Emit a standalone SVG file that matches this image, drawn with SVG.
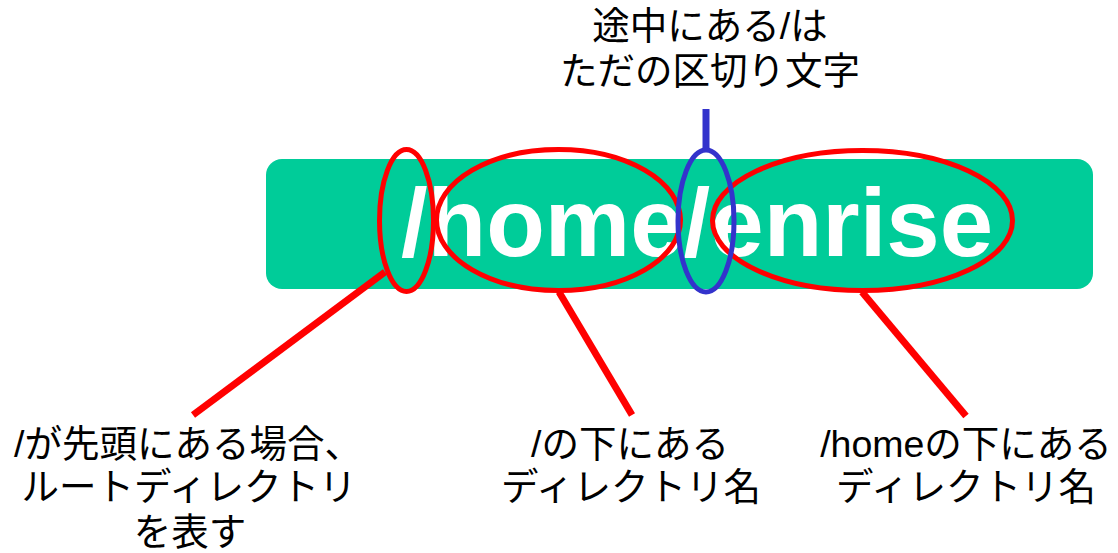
<svg xmlns="http://www.w3.org/2000/svg" width="1118" height="553" viewBox="0 0 1118 553">
<style>
.lbl{font-family:"Liberation Sans","Noto Sans CJK JP",sans-serif;font-size:37.5px;fill:#000;text-anchor:middle}
.main{font-family:"Liberation Sans",Arial,sans-serif;font-weight:bold;font-size:96px;fill:#fff;text-anchor:middle}
.red{fill:none;stroke:#ff0000;stroke-width:5}
.blue{fill:none;stroke:#3333cc;stroke-width:5}
.ln{stroke:#ff0000;stroke-width:7;fill:none}
</style>
<rect width="1118" height="553" fill="#fff"/>
<g id="path-box">
<rect x="266" y="159" width="827" height="130" rx="16" fill="#00cc99"/>
<text class="main" x="697" y="256">/home/enrise</text>
</g>
<g id="root-slash"><ellipse class="red" cx="406.5" cy="220.5" rx="27" ry="71"/></g>
<g id="home"><ellipse class="red" cx="558.5" cy="220" rx="122" ry="70.5"/></g>
<g id="enrise"><ellipse class="red" cx="862.5" cy="220.5" rx="150" ry="70"/></g>
<g id="separator"><ellipse class="blue" cx="706" cy="221" rx="28" ry="71"/></g>
<g id="connectors">
<line class="ln" x1="385" y1="272" x2="193" y2="415"/>
<line class="ln" x1="559" y1="292" x2="632" y2="415"/>
<line class="ln" x1="862" y1="292" x2="966" y2="416"/>
<line x1="706" y1="109" x2="706" y2="150" stroke="#3333cc" stroke-width="7"/>
</g>
<g id="label-separator">
<text class="lbl" x="710" y="39">途中にある/は</text>
<text class="lbl" x="710" y="84">ただの区切り文字</text>
</g>
<g id="label-root">
<text class="lbl" x="188" y="457">/が先頭にある場合、</text>
<text class="lbl" x="189" y="500">ルートディレクトリ</text>
<text class="lbl" x="190" y="545">を表す</text>
</g>
<g id="label-home">
<text class="lbl" x="630" y="457">/の下にある</text>
<text class="lbl" x="631" y="500">ディレクトリ名</text>
</g>
<g id="label-enrise">
<text class="lbl" x="966" y="457">/homeの下にある</text>
<text class="lbl" x="966" y="500">ディレクトリ名</text>
</g>
</svg>
